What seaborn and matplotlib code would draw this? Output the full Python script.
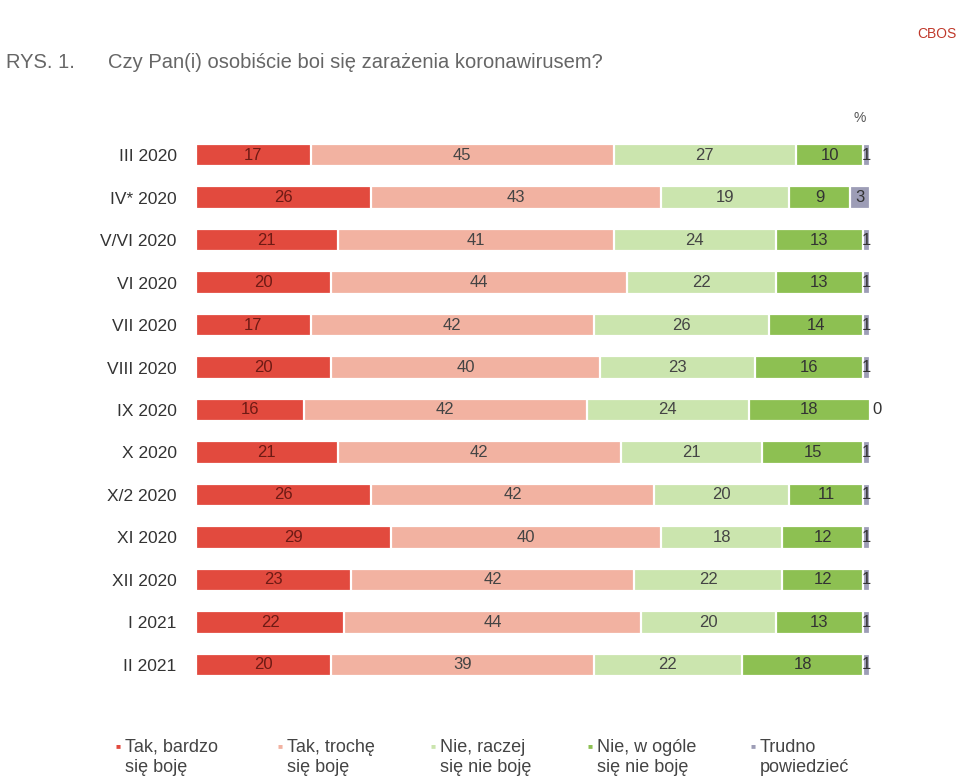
import numpy as np
import pandas as pd
import matplotlib
matplotlib.use('Agg')
import matplotlib.pyplot as plt
import seaborn as sns

OKRESY = ['III 2020', 'IV* 2020', 'V/VI 2020', 'VI 2020', 'VII 2020', 'VIII 2020',
          'IX 2020', 'X 2020', 'X/2 2020', 'XI 2020', 'XII 2020', 'I 2021', 'II 2021']
TAK_BARDZO = [17, 26, 21, 20, 17, 20, 16, 21, 26, 29, 23, 22, 20]
TAK_TROCHE = [45, 43, 41, 44, 42, 40, 42, 42, 42, 40, 42, 44, 39]
NIE_RACZEJ = [27, 19, 24, 22, 26, 23, 24, 21, 20, 18, 22, 20, 22]
NIE_WOGOLE = [10, 9, 13, 13, 14, 16, 18, 15, 11, 12, 12, 13, 18]
TRUDNO = [1, 3, 1, 1, 1, 1, 0, 1, 1, 1, 1, 1, 1]

SERIE = ['Tak, bardzo\nsię boję', 'Tak, trochę\nsię boję', 'Nie, raczej\nsię nie boję',
         'Nie, w ogóle\nsię nie boję', 'Trudno\npowiedzieć']
KOLORY = ['#e24a3e', '#f2b2a1', '#cbe5ae', '#8dc052', '#9d9db6']
KOLORY_TXT = ['#6e1a14', '#444444', '#444444', '#333333', '#333333']

sns.set_style('white')
plt.rcParams['font.family'] = ['Liberation Sans', 'DejaVu Sans']

wartosci = np.array([TAK_BARDZO, TAK_TROCHE, NIE_RACZEJ, NIE_WOGOLE, TRUDNO])
cum = wartosci.cumsum(axis=0)

fig = plt.figure(figsize=(9.59, 7.78), dpi=100)
ax = fig.add_axes([196 / 959, 1 - 686 / 778, 674 / 959, 552 / 778])

# stacked bars: draw cumulative totals from the widest down
for i in range(len(SERIE) - 1, -1, -1):
    df = pd.DataFrame({'okres': OKRESY, 'wartosc': cum[i]})
    sns.barplot(data=df, x='wartosc', y='okres', order=OKRESY, color=KOLORY[i],
                orient='h', width=0.53, edgecolor='white', linewidth=1.6,
                saturation=1, ax=ax)

for i in range(len(SERIE)):
    for j in range(len(OKRESY)):
        v = wartosci[i, j]
        start = cum[i, j] - v
        if v == 0:
            ax.text(cum[i, j] + 0.3, j, str(v), ha='left', va='center',
                    fontsize=12, color=KOLORY_TXT[i])
        else:
            ax.text(start + v / 2, j, str(v), ha='center', va='center',
                    fontsize=12, color=KOLORY_TXT[i])

ax.set_xlim(0, 100)
ax.set_ylim(12.5, -0.5)
ax.set_xlabel('')
ax.set_ylabel('')
ax.set_xticks([])
ax.tick_params(axis='y', length=0, pad=14, labelsize=12.5, labelcolor='#333333')
sns.despine(ax=ax, left=True, bottom=True)

fig.text(6 / 959, 1 - 63 / 778, 'RYS. 1.', fontsize=14.5, color='#666666', va='center')
fig.text(108 / 959, 1 - 63 / 778, 'Czy Pan(i) osobiście boi się zarażenia koronawirusem?',
         fontsize=14.5, color='#666666', va='center')
fig.text(956 / 959, 1 - 34 / 778, 'CBOS', fontsize=10, color='#c0392b', ha='right', va='center')
fig.text(866 / 959, 1 - 118 / 778, '%', fontsize=10, color='#555555', ha='right', va='center')

# legend drawn by hand: square marker next to the first line of each label
leg_x = [118, 280, 433, 590, 753]
for x, lab, k in zip(leg_x, SERIE, KOLORY):
    fig.text(x / 959, 1 - 747 / 778, '■', fontsize=6, color=k, ha='center', va='center')
    fig.text((x + 7) / 959, 1 - 739 / 778, lab, fontsize=13, color='#444444',
             ha='left', va='top', linespacing=1.2)

fig.savefig('out.png', dpi=100)
